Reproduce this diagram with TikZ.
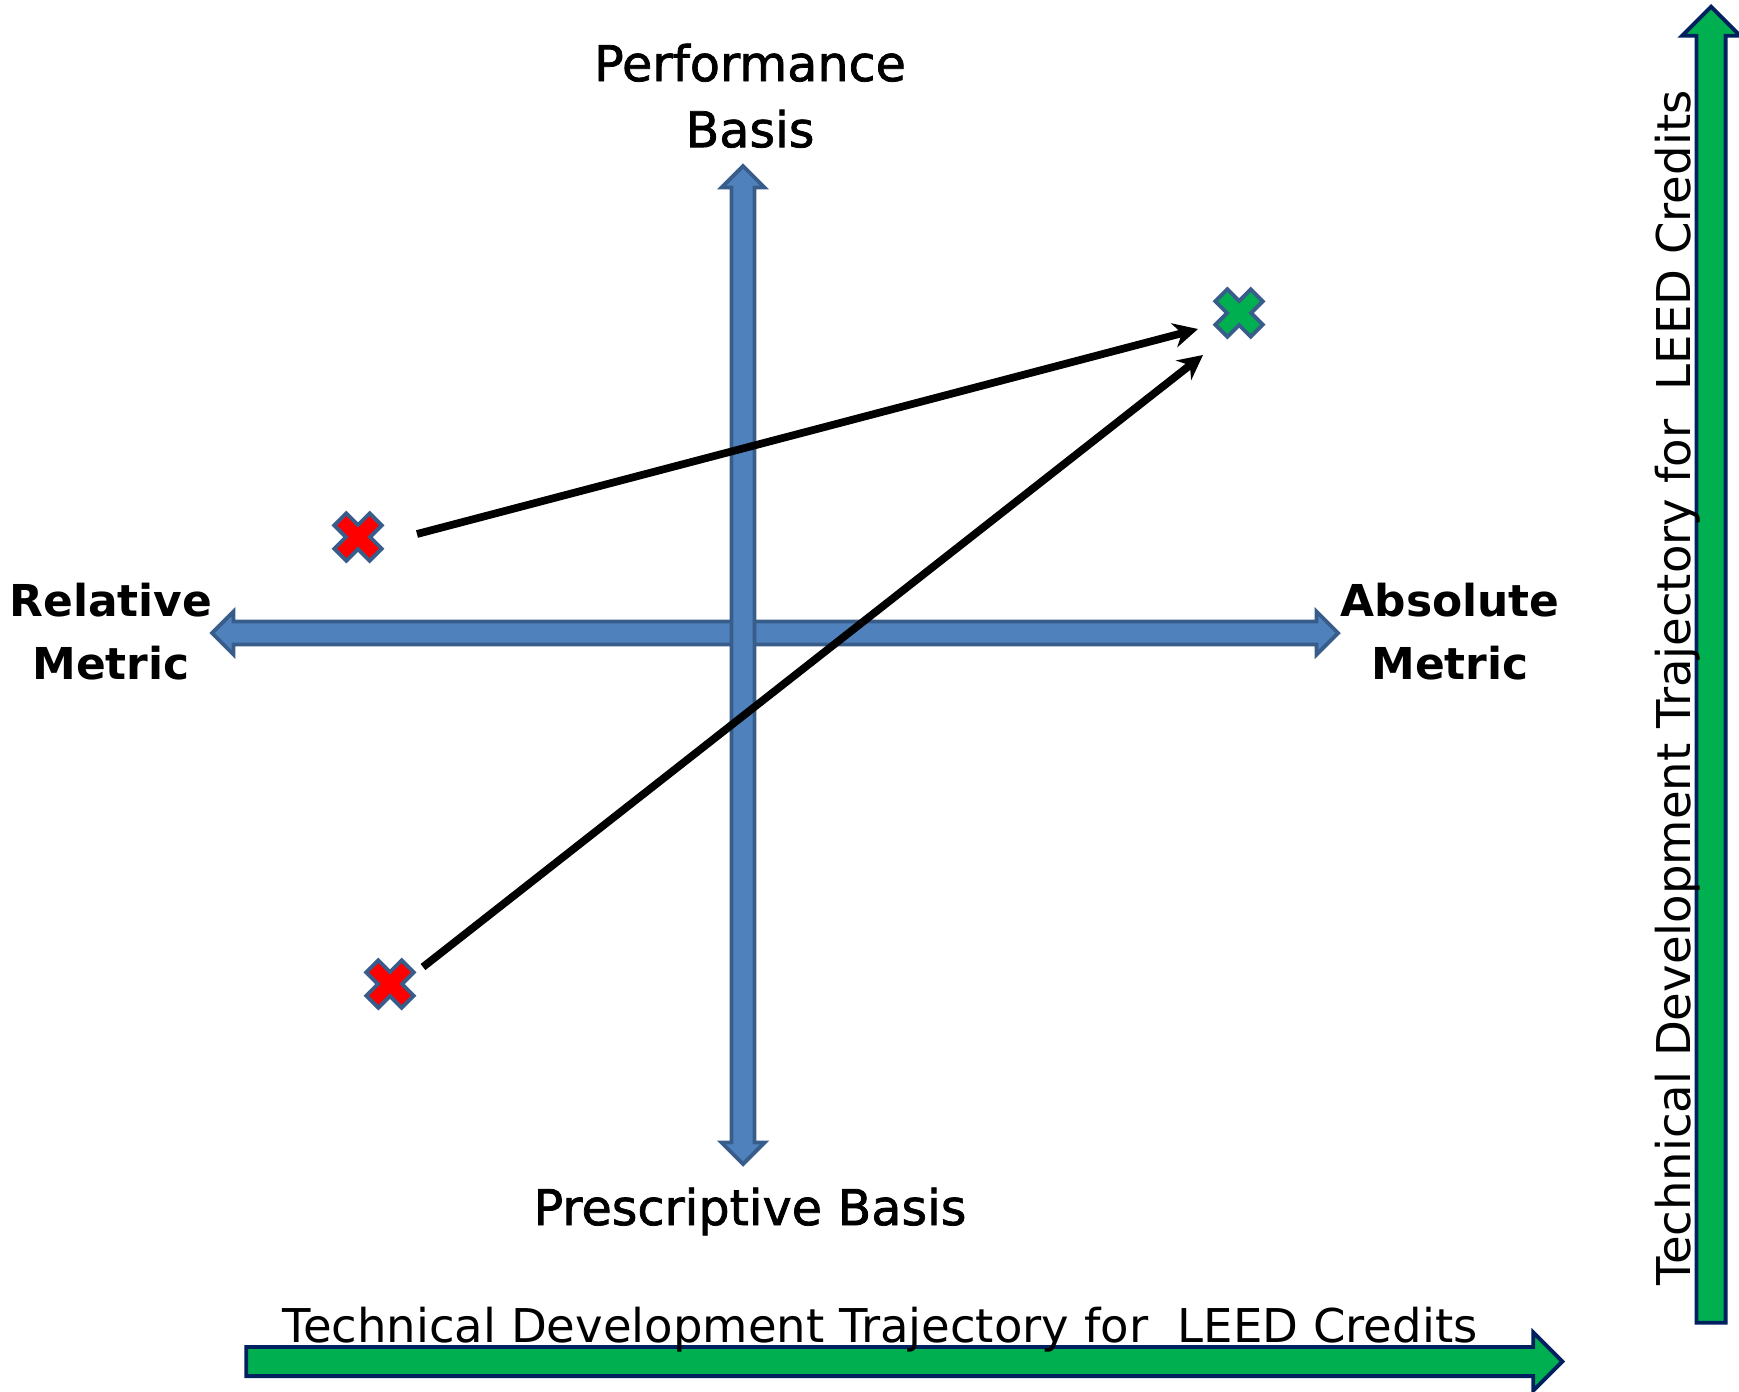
\documentclass[tikz,border=0pt]{standalone}
\usepackage{fontspec}
\setmainfont{DejaVu Sans}
\newfontfamily\basisfont[FakeBold=1.5]{DejaVu Sans}
\usetikzlibrary{
  shapes.arrows,
  arrows.meta
}
\definecolor{axisfill}{HTML}{4F81BD}
\definecolor{axisedge}{HTML}{385D8A}
\definecolor{trackfill}{HTML}{00B050}
\definecolor{trackedge}{HTML}{002060}
\tikzset{
  axis arrow/.style={
    double arrow,
    draw=axisedge,
    fill=axisfill,
    line width=1.1pt,
    inner xsep=0pt,
    inner ysep=0.096cm,
    double arrow head extend=0.1cm
  },
  track arrow/.style={
    single arrow,
    draw=trackedge,
    fill=trackfill,
    line width=1.1pt,
    inner xsep=0pt,
    inner ysep=0.126cm,
    single arrow head extend=0.145cm
  },
  basis label/.style={
    font=\basisfont\fontsize{14}{18.8}\selectfont,
    align=center,
    inner sep=0pt
  },
  metric label/.style={
    font=\bfseries\fontsize{12.5}{18}\selectfont,
    align=center,
    inner sep=0pt
  },
  track label/.style={
    font=\fontsize{13.25}{16}\selectfont,
    inner sep=0pt
  },
  move/.style={
    line width=2.2pt,
    -{Stealth[length=7pt,width=7pt]}
  },
  pics/xmark/.style={
    code={
      \path[draw=axisedge, line width=1.1pt, fill=#1, rotate=45]
      (-0.085,0.25) -- (0.085,0.25) -- (0.085,0.085) -- (0.25,0.085)
      -- (0.25,-0.085) -- (0.085,-0.085) -- (0.085,-0.25) -- (-0.085,-0.25)
      -- (-0.085,-0.085) -- (-0.25,-0.085) -- (-0.25,0.085) -- (-0.085,0.085)
      -- cycle;
    }
  }
}

\begin{document}
\begin{tikzpicture}
\useasboundingbox (0,0) rectangle (17.39,-13.91);
% axes
\node[axis arrow, minimum height=11.26cm] (haxis) at (7.75,-6.33) {};
\node[axis arrow, minimum height=9.98cm, rotate=90] (vaxis) at (7.43,-6.65) {};
% trajectory arrows
\node[track arrow, minimum height=13.16cm] (htrack) at (8.97,-13.615) {};
\node[track arrow, minimum height=13.16cm, rotate=90] (vtrack) at (17.11,-6.72) {};
% labels
\node[basis label, anchor=north] (perf) at (7.50,-0.43) {Performance\\Basis};
\node[basis label, anchor=base] (presc) at (7.50,-12.25) {Prescriptive Basis};
\node[metric label, anchor=north] (rel) at (1.11,-5.82) {Relative\\Metric};
\node[metric label, anchor=north] (abs) at (14.50,-5.82) {Absolute\\Metric};
\node[track label, anchor=base] (hlabel) at (8.80,-13.42)
  {Technical Development Trajectory for\ \ LEED Credits};
\node[track label, anchor=base, rotate=90] (vlabel) at (16.90,-6.88)
  {Technical Development Trajectory for\ \ LEED Credits};
% markers
\coordinate (r1) at (3.58,-5.37);
\coordinate (r2) at (3.90,-9.84);
\coordinate (g1) at (12.39,-3.13);
\pic at (r1) {xmark=red};
\pic at (r2) {xmark=red};
\pic at (g1) {xmark=trackfill};
% moves
\coordinate (from1) at (4.17,-5.34);
\coordinate (to1) at (11.98,-3.29);
\coordinate (from2) at (4.23,-9.67);
\coordinate (to2) at (12.03,-3.55);
\draw[move] (from1) -- (to1);
\draw[move] (from2) -- (to2);
\end{tikzpicture}
\end{document}
